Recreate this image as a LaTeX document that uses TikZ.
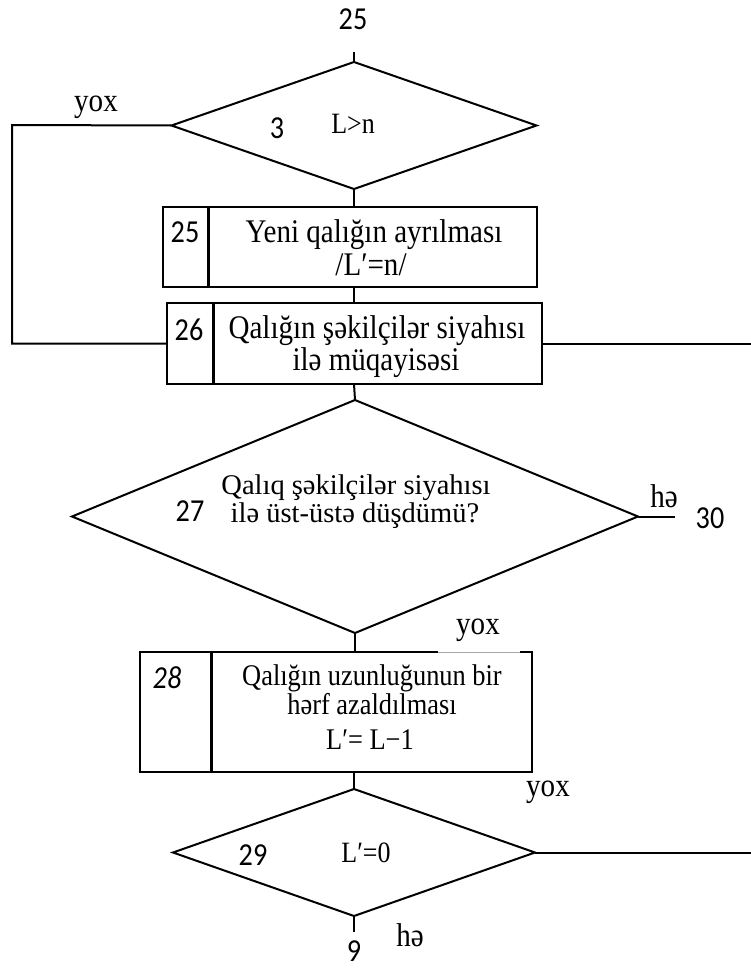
\documentclass[tikz,border=0pt]{standalone}
\usepackage{fontspec}
\setmainfont[FakeStretch=0.88]{Liberation Serif}
\newfontfamily\plainserif{Liberation Serif}
\newfontfamily\numfont[FakeStretch=0.88]{Carlito}
\usetikzlibrary{shapes.geometric}
\begin{document}
\begin{tikzpicture}[x=1pt,y=-1pt,
  line/.style={line width=2pt},
  decision/.style={diamond, draw, line width=2pt, inner sep=0pt, outer sep=0pt},
  procbox/.style={rectangle, draw, line width=2.4pt, inner sep=0pt, outer sep=0pt},
  divider/.style={line width=3pt},
  num/.style={font=\numfont\fontsize{32}{32}\selectfont, inner sep=0pt},
  inum/.style={font=\numfont\itshape\fontsize{32}{32}\selectfont, inner sep=0pt},
  txt/.style={font=\fontsize{33}{37}\selectfont, inner sep=0pt, anchor=base},
  dtxt/.style={font=\plainserif\fontsize{28.5}{33}\selectfont, inner sep=0pt, anchor=base},
  btxt/.style={font=\fontsize{30}{34}\selectfont, inner sep=0pt, anchor=base},
  cond/.style={font=\fontsize{29.5}{34}\selectfont, inner sep=0pt},
  lbl/.style={font=\fontsize{33}{37}\selectfont, inner sep=0pt}
]
\useasboundingbox (0,0) rectangle (751,969);

% ---- shapes ----
\node[decision, minimum width=365pt, minimum height=127pt] (d3) at (354,125.5) {};
\node[procbox, minimum width=374pt, minimum height=80pt] (b25) at (350,247) {};
\node[procbox, minimum width=375pt, minimum height=81pt] (b26) at (354.5,343.5) {};
\node[decision, minimum width=566pt, minimum height=233pt] (d27) at (355,516.5) {};
\node[procbox, minimum width=392pt, minimum height=120pt] (b28) at (336,712) {};
\node[decision, minimum width=362pt, minimum height=127pt] (d29) at (354,852.5) {};

% dividers of the numbered boxes
\draw[divider] (208,207) -- (208,287);
\draw[divider] (213,303) -- (213,384);
\draw[divider] (211,652) -- (211,772);
% faint stretch of the top edge of box 28
\draw[white, line width=2.8pt] (438,652) -- (520,652);
\draw[gray!70, line width=1pt] (438,652) -- (520,652);

% ---- free ends ----
\coordinate (in25) at (354,52);
\coordinate (lp) at (12,125);
\coordinate (rt) at (751,0);
\coordinate (o30) at (675,516.5);
\coordinate (o9) at (354,932);

% ---- connectors ----
\draw[line] (in25) -- (d3.north);
\draw[line] (d3.south) -- (d3.south |- b25.north);
\draw[line] (d3.south |- b25.south) -- (d3.south |- b26.north);
\draw[line] (d3.west) -- (lp) |- (b26.west);
\draw[line] (b26.east) -- (b26.east -| rt);
\draw[line] (d3.south |- b26.south) -- (d27.north);
\draw[line] (d27.east) -- (o30);
\draw[line] (d27.south) -- (d27.south |- b28.north);
\draw[line] (d29.north |- b28.south) -- (d29.north);
\draw[line] (d29.east) -- (d29.east -| rt);
\draw[line] (d29.south) -- (o9);

% ---- texts ----
\node[num] (n25top) at (353,19) {25};
\node[lbl] (yox1) at (96,107) {yox};
\node[num] (n3) at (277,128) {3};
\node[cond] (c3) at (353,124) {L>n};

\node[num] (n25) at (185,232) {25};
\node[txt] (t25a) at (374,242) {Yeni qalığın ayrılması};
\node[txt] (t25b) at (371,275) {/L′=n/};

\node[num] (n26) at (189,330) {26};
\node[txt] (t26a) at (377,338) {Qalığın şəkilçilər siyahısı};
\node[txt] (t26b) at (376,370) {ilə müqayisəsi};

\node[num] (n27) at (190,511) {27};
\node[dtxt] (t27a) at (356,494) {Qalıq şəkilçilər siyahısı};
\node[dtxt] (t27b) at (355,522) {ilə üst-üstə düşdümü?};
\node[lbl] (he1) at (664,496) {hə};
\node[num] (n30) at (710,518) {30};
\node[lbl] (yox2) at (478,630) {yox};

\node[inum] (n28) at (167,678) {28};
\node[btxt] (t28a) at (372,685) {Qalığın uzunluğunun bir};
\node[btxt] (t28b) at (372,714) {hərf azaldılması};
\node[btxt] (t28c) at (370,749) {L′= L−1};

\node[lbl] (yox3) at (548,792) {yox};
\node[num] (n29) at (253,855) {29};
\node[cond] (c29) at (366,853) {L′=0};
\node[lbl] (he2) at (410,935) {hə};
\node[num] (n9) at (354,951) {9};
\end{tikzpicture}
\end{document}
